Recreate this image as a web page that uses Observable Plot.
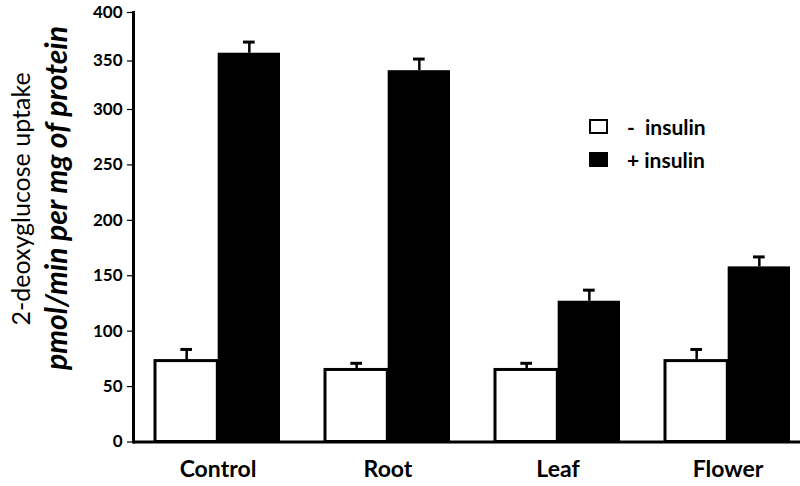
<!DOCTYPE html>
<html>
<head>
<meta charset="utf-8">
<script src="https://cdn.jsdelivr.net/npm/d3@7"></script>
<script src="https://cdn.jsdelivr.net/npm/@observablehq/plot@0.6"></script>
<style>
  html, body { margin: 0; padding: 0; background: #fff; }
  #wrap { position: relative; width: 800px; height: 486px; }
  #legend { position: absolute; left: 589px; top: 110px; font: bold 21px Lato, sans-serif; color: #000; }
  .row { display: flex; align-items: center; height: 33px; }
  .sw { width: 19px; height: 15px; box-sizing: border-box; border: 2px solid #000; margin-right: 19px; }
  .lab { white-space: pre; }
  .ytitle { position: absolute; white-space: nowrap; line-height: 1; color: #000; font-family: Lato, sans-serif;
            transform: translate(-50%, -50%) rotate(-90deg); }
</style>
</head>
<body>
<div id="wrap"></div>
<script>
// ---- data ----
const categories = ["Control", "Root", "Leaf", "Flower"];
const minusInsulin = [73, 65, 65, 73];
const minusErr = [10.5, 6, 6, 10.5];
const plusInsulin = [358, 340, 127, 158];
const plusErr = [11.5, 12, 10, 9];
const yTicks = [0, 50, 100, 150, 200, 250, 300, 350, 400];
const legendLabels = ["-  insulin", "+ insulin"];
const legendFills = ["#ffffff", "#000000"];
const yTitle1 = "2-deoxyglucose uptake";
const yTitle2 = "pmol/min per mg of protein";

// ---- layout ----
const W = 800, H = 486, mL = 133, mR = 0, mT = 12, mB = 44.5;
const pInner = 0.2665, pOuter = 0.0847, align = 0.68;
const step = (W - mL - mR) / (categories.length - pInner + 2 * pOuter);
const bw = step * (1 - pInner);
const half = bw / 2;
const capW = 12;

const rows = categories.map((c, i) => ({
  cat: c,
  minus: minusInsulin[i], minusTop: minusInsulin[i] + minusErr[i],
  plus: plusInsulin[i], plusTop: plusInsulin[i] + plusErr[i]
}));

const chart = Plot.plot({
  width: W, height: H,
  marginLeft: mL, marginRight: mR, marginTop: mT, marginBottom: mB,
  style: { fontFamily: "Lato, sans-serif", color: "#000", background: "#fff", overflow: "visible" },
  x: { type: "band", domain: categories, paddingInner: pInner, paddingOuter: pOuter, align, axis: null },
  y: { type: "linear", domain: [0, 300, 400], range: [H - mB, 109, mT], axis: null },
  marks: [
    Plot.barY(rows, { x: "cat", y: "minus", fill: "#fff", stroke: "#000", strokeWidth: 3, insetRight: half }),
    Plot.barY(rows, { x: "cat", y: "plus", fill: "#000", insetLeft: half }),
    Plot.ruleX(rows, { x: "cat", y1: "minus", y2: "minusTop", dx: -half / 2, strokeWidth: 2.5 }),
    Plot.tickY(rows, { x: "cat", y: "minusTop", dx: -half / 2, insetLeft: (bw - capW) / 2, insetRight: (bw - capW) / 2, strokeWidth: 3 }),
    Plot.ruleX(rows, { x: "cat", y1: "plus", y2: "plusTop", dx: half / 2, strokeWidth: 2.5 }),
    Plot.tickY(rows, { x: "cat", y: "plusTop", dx: half / 2, insetLeft: (bw - capW) / 2, insetRight: (bw - capW) / 2, strokeWidth: 3 }),
    Plot.ruleY([0], { strokeWidth: 3 }),
    Plot.frame({ anchor: "left", strokeWidth: 3 }),
    Plot.axisY(yTicks, { tickSize: 6, tickPadding: 5, fontSize: 17, fontWeight: "bold", label: null, strokeWidth: 1.2 }),
    Plot.axisX({ tickSize: 0, tickPadding: 19, fontSize: 23, fontWeight: "bold", label: null })
  ]
});

const wrap = document.getElementById("wrap");
wrap.appendChild(chart);

// y-axis titles (two lines, rotated)
[[yTitle1, 20, 199, "normal", "normal", 25], [yTitle2, 55, 198, "bold", "italic", 30]].forEach(([t, cx, cy, fw, fs, size]) => {
  const d = document.createElement("div");
  d.className = "ytitle";
  d.textContent = t;
  d.style.left = cx + "px";
  d.style.top = cy + "px";
  d.style.fontWeight = fw;
  d.style.fontStyle = fs;
  d.style.fontSize = size + "px";
  wrap.appendChild(d);
});

const legend = document.createElement("div");
legend.id = "legend";
legendLabels.forEach((t, i) => {
  const r = document.createElement("div");
  r.className = "row";
  const s = document.createElement("span");
  s.className = "sw";
  s.style.background = legendFills[i];
  const l = document.createElement("span");
  l.className = "lab";
  l.textContent = t;
  r.appendChild(s); r.appendChild(l);
  legend.appendChild(r);
});
wrap.appendChild(legend);
</script>
</body>
</html>
